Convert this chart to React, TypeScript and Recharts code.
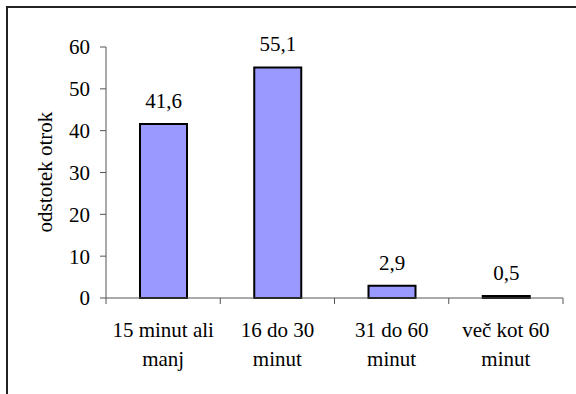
import { BarChart, Bar, XAxis, YAxis, LabelList, Label } from 'recharts';

const categories = ['15 minut ali|manj', '16 do 30|minut', '31 do 60|minut', 'več kot 60|minut'];
const values = [41.6, 55.1, 2.9, 0.5];
const yTicks = [0, 10, 20, 30, 40, 50, 60];
const yTitle = 'odstotek otrok';

const FONT = 'Liberation Serif';

const chartData = categories.map((c, i) => ({ cat: c, value: values[i] }));

const css = `
#root svg text, #root svg tspan, .recharts-wrapper text, .recharts-wrapper tspan {
  font-family: 'Liberation Serif', 'Times New Roman', serif !important;
}
`;

// category label on two lines, tick marks sit on the category boundaries
function CatTick(props: any) {
  const { x, y, payload, index } = props;
  const half = payload?.offset ?? 57;
  const lines = String(payload.value).split('|');
  return (
    <g>
      <line x1={x + half} y1={y} x2={x + half} y2={y + 6} stroke="#555" />
      {index === 0 && <line x1={x - half} y1={y} x2={x - half} y2={y + 6} stroke="#555" />}
      <text x={x} y={y} textAnchor="middle" fontFamily={FONT} fontSize={21} fill="#000">
        <tspan x={x} dy={39}>{lines[0]}</tspan>
        <tspan x={x} dy={29}>{lines[1]}</tspan>
      </text>
    </g>
  );
}

function YTitle() {
  return (
    <text
      x={45}
      y={172}
      transform="rotate(-90 45 172)"
      textAnchor="middle"
      dominantBaseline="central"
      fontFamily={FONT}
      fontSize={21}
      fill="#000"
    >
      {yTitle}
    </text>
  );
}

export default function App() {
  return (
    <div style={{ position: 'absolute', left: 0, top: 0, width: 576, height: 394, overflow: 'hidden', background: '#fff' }}>
      <style>{css}</style>
      <div
        style={{
          position: 'absolute',
          left: 6,
          top: 6,
          width: 700,
          height: 500,
          borderLeft: '2px solid #222',
          borderTop: '2px solid #222',
        }}
      />
      <BarChart
        width={576}
        height={394}
        data={chartData}
        margin={{ top: 47, right: 13, bottom: 0, left: 0 }}
        style={{ position: 'absolute', left: 0, top: 0 }}
      >
        <XAxis
          dataKey="cat"
          height={96}
          axisLine={{ stroke: '#555' }}
          tickLine={false}
          tickSize={0}
          tickMargin={0}
          interval={0}
          tick={<CatTick />}
        />
        <YAxis
          width={106}
          domain={[0, 60]}
          ticks={yTicks}
          interval={0}
          axisLine={{ stroke: '#555' }}
          tickLine={{ stroke: '#555' }}
          tickSize={6}
          tickMargin={10}
          tick={{ fill: '#000', fontSize: 21, fontFamily: FONT }}
        >
          <Label content={<YTitle />} />
        </YAxis>
        <Bar dataKey="value" fill="#9999FF" stroke="#000" strokeWidth={2} barSize={47} isAnimationActive={false}>
          <LabelList
            dataKey="value"
            position="top"
            offset={16}
            fontFamily={FONT}
            fontSize={21}
            fill="#000"
            formatter={(v: any) => String(v).replace('.', ',')}
          />
        </Bar>
      </BarChart>
    </div>
  );
}
